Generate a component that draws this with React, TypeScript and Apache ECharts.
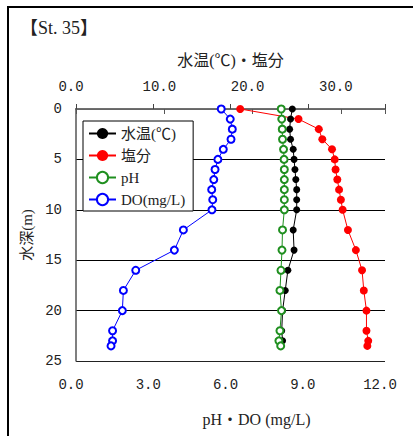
import React, { useEffect, useRef } from "react";
import * as echarts from "echarts";

const depth = [0, 1, 2, 3, 4, 5, 6, 7, 8, 9, 10, 12, 14, 16, 18, 20, 22, 23, 23.5];
const temperature = [24.5, 24.3, 24.2, 24.3, 24.6, 24.7, 24.8, 24.9, 25.0, 25.0, 25.0, 24.6, 24.7, 24.0, 23.7, 23.4, 23.3, 23.4, 23.2];
const salinity = [18.6, 25.2, 27.5, 27.9, 29.0, 29.3, 29.4, 29.6, 29.8, 30.0, 30.2, 30.8, 31.7, 32.4, 32.6, 32.9, 32.9, 33.1, 33.0];
const ph = [7.97, 7.99, 8.01, 8.02, 8.06, 8.08, 8.09, 8.09, 8.09, 8.09, 8.09, 8.02, 8.0, 7.96, 7.92, 7.98, 7.92, 7.88, 7.95];
const doValues = [5.64, 5.99, 6.07, 6.02, 5.72, 5.51, 5.4, 5.35, 5.27, 5.31, 5.28, 4.17, 3.82, 2.32, 1.84, 1.8, 1.42, 1.42, 1.36];

const seriesNames = ["水温(℃)", "塩分", "pH", "DO(mg/L)"];
const title = "【St. 35】";
const topAxisName = "水温(℃)・塩分";
const bottomAxisName = "pH・DO (mg/L)";
const depthAxisName = "水深(m)";

const NUM_FONT = "'Liberation Mono', 'Noto Sans CJK JP', monospace";
const TXT_FONT = "'Liberation Serif', 'Noto Sans CJK JP', serif";

export default function App() {
  const ref = useRef<HTMLDivElement>(null);
  useEffect(() => {
    if (!ref.current) return;
    const chart = echarts.init(ref.current, null, { renderer: "svg" });
    const pair = (vals: number[]) => vals.map((v, i) => [v, depth[i]]);
    chart.setOption({
      animation: false,
      backgroundColor: "#fff",
      graphic: [
        {
          type: "rect",
          shape: { x: 8, y: 7, width: 430, height: 450 },
          style: { fill: "none", stroke: "#000", lineWidth: 2 },
          silent: true,
        },
        {
          type: "text",
          x: 20,
          y: 28,
          style: {
            text: title,
            fontSize: 18,
            fontFamily: TXT_FONT,
            fill: "#222",
            verticalAlign: "middle",
          },
        },
      ],
      grid: { left: 76, right: 28, top: 109, bottom: 75 },
      legend: {
        orient: "vertical",
        left: 83,
        top: 121,
        padding: [5, 8, 4, 5],
        itemWidth: 27,
        itemHeight: 14,
        itemGap: 7,
        backgroundColor: "#fff",
        borderColor: "#000",
        borderWidth: 1,
        borderRadius: 0,
        textStyle: { fontFamily: TXT_FONT, fontSize: 15, color: "#222" },
        data: seriesNames,
      },
      xAxis: [
        {
          type: "value",
          position: "bottom",
          min: 0,
          max: 12,
          interval: 3,
          name: bottomAxisName,
          nameLocation: "middle",
          nameGap: 50,
          nameTextStyle: { fontFamily: TXT_FONT, fontSize: 16, color: "#222", padding: [0, 0, 0, 52] },
          axisLine: { lineStyle: { color: "#222", width: 1.5 } },
          axisTick: { inside: true, length: 5, lineStyle: { color: "#444" } },
          axisLabel: {
            fontFamily: NUM_FONT,
            fontSize: 14,
            color: "#222",
            margin: 17,
            padding: [0, 10, 0, 0],
            formatter: (v: number) => v.toFixed(1),
          },
          splitLine: { show: false },
        },
        {
          type: "value",
          position: "top",
          min: 0,
          max: 35,
          interval: 10,
          name: topAxisName,
          nameLocation: "middle",
          nameGap: 41,
          nameTextStyle: { fontFamily: TXT_FONT, fontSize: 16, color: "#222" },
          axisLine: { lineStyle: { color: "#777", width: 1.5 } },
          axisTick: { inside: true, length: 5, lineStyle: { color: "#555" } },
          axisLabel: {
            fontFamily: NUM_FONT,
            fontSize: 14,
            color: "#222",
            margin: 15,
            padding: [0, 10, 0, 0],
            formatter: (v: number) => (v % 10 === 0 ? v.toFixed(1) : ""),
          },
          splitLine: { show: false },
        },
      ],
      yAxis: {
        type: "value",
        inverse: true,
        min: 0,
        max: 25,
        interval: 5,
        name: depthAxisName,
        nameLocation: "middle",
        nameGap: 40,
        nameRotate: 90,
        nameTextStyle: { fontFamily: TXT_FONT, fontSize: 15, color: "#222" },
        axisLine: { lineStyle: { color: "#555", width: 1.5 } },
        axisTick: { show: false },
        axisLabel: { fontFamily: NUM_FONT, fontSize: 14, color: "#222", margin: 14 },
        splitLine: {
          show: true,
          lineStyle: { color: ["#777", "#000", "#000", "#000", "#000", "#222"], width: 1 },
        },
      },
      series: [
        {
          name: seriesNames[0],
          type: "line",
          xAxisIndex: 1,
          data: pair(temperature),
          symbol: "circle",
          symbolSize: 7,
          color: "#000",
          lineStyle: { color: "#000", width: 1 },
          itemStyle: { color: "#000" },
          z: 4,
        },
        {
          name: seriesNames[1],
          type: "line",
          xAxisIndex: 1,
          data: pair(salinity),
          symbol: "circle",
          symbolSize: 8,
          color: "#ff0000",
          lineStyle: { color: "#ff0000", width: 1 },
          itemStyle: { color: "#ff0000" },
          z: 3,
        },
        {
          name: seriesNames[2],
          type: "line",
          xAxisIndex: 0,
          data: pair(ph),
          symbol: "emptyCircle",
          symbolSize: 7,
          color: "#1f8f1f",
          lineStyle: { color: "#1f8f1f", width: 1 },
          itemStyle: { color: "#1f8f1f", borderWidth: 1 },
          z: 5,
        },
        {
          name: seriesNames[3],
          type: "line",
          xAxisIndex: 0,
          data: pair(doValues),
          symbol: "emptyCircle",
          symbolSize: 7,
          color: "#0000ff",
          lineStyle: { color: "#0000ff", width: 1 },
          itemStyle: { color: "#0000ff", borderWidth: 1 },
          z: 3,
        },
      ],
    });
    return () => chart.dispose();
  }, []);
  return (
    <div
      ref={ref}
      style={{ position: "fixed", left: 0, top: 0, width: 413, height: 436 }}
    />
  );
}
